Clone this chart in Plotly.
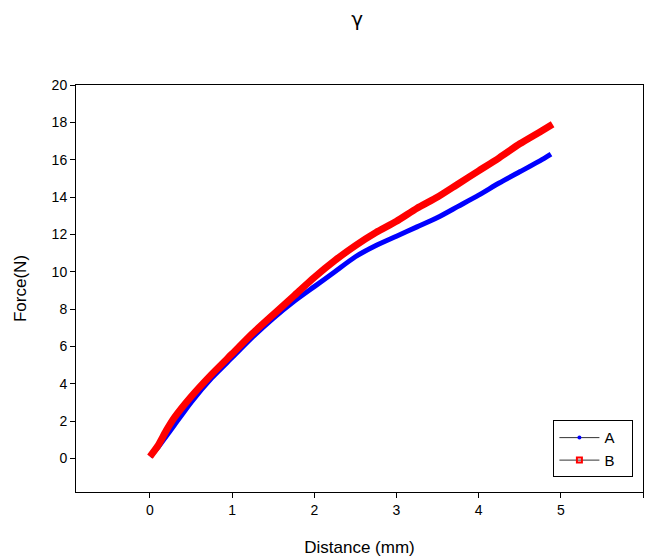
import plotly.graph_objects as go

# Series A (blue)
a_x = [0, 0.1, 0.2, 0.3, 0.5, 0.75, 1.0, 1.25, 1.5, 1.75, 2.0, 2.25, 2.5, 2.75,
       3.0, 3.25, 3.5, 3.75, 4.0, 4.25, 4.5, 4.75, 4.88]
a_y = [0.1, 0.6, 1.2, 1.8, 3.0, 4.3, 5.4, 6.5, 7.5, 8.4, 9.2, 10.0, 10.8, 11.4,
       11.9, 12.4, 12.9, 13.5, 14.1, 14.75, 15.35, 15.95, 16.3]

# Series B (red)
b_x = [0, 0.1, 0.2, 0.3, 0.5, 0.75, 1.0, 1.25, 1.5, 1.75, 2.0, 2.25, 2.5, 2.75,
       3.0, 3.25, 3.5, 3.75, 4.0, 4.25, 4.5, 4.75, 4.9]
b_y = [0.1, 0.7, 1.5, 2.2, 3.3, 4.5, 5.6, 6.7, 7.7, 8.7, 9.7, 10.6, 11.4, 12.1,
       12.7, 13.4, 14.0, 14.7, 15.4, 16.1, 16.85, 17.5, 17.9]

series_names = ["A", "B"]
x_ticks = [0, 1, 2, 3, 4, 5, 6]
y_ticks = [0, 2, 4, 6, 8, 10, 12, 14, 16, 18, 20]

FONT = "Liberation Sans, Arial"
PAD = "\u00a0" * 3

fig = go.Figure()
fig.add_trace(go.Scatter(x=a_x, y=a_y, mode="lines", showlegend=False,
                         line=dict(color="#0000ff", width=5, shape="spline", smoothing=0.6)))
fig.add_trace(go.Scatter(x=b_x, y=b_y, mode="lines", showlegend=False,
                         line=dict(color="#ff0000", width=7, shape="spline", smoothing=0.6)))
# legend entries
fig.add_trace(go.Scatter(x=[None], y=[None], mode="lines+markers", name=series_names[0] + PAD,
                         line=dict(color="#333333", width=1),
                         marker=dict(color="#0000ff", size=4, symbol="circle")))
fig.add_trace(go.Scatter(x=[None], y=[None], mode="lines+markers", name=series_names[1] + PAD,
                         line=dict(color="#333333", width=1),
                         marker=dict(color="#ff0000", size=5, symbol="square-open",
                                     line=dict(width=2, color="#ff0000"))))

axis_common = dict(showgrid=False, zeroline=False, showline=True, linecolor="black",
                   linewidth=1, mirror=True, ticks="outside", ticklen=5,
                   tickcolor="black", tickfont=dict(family=FONT, size=14, color="black"))

fig.update_layout(
    width=646, height=560,
    margin=dict(l=76, r=3, t=85, b=68),
    paper_bgcolor="white", plot_bgcolor="white",
    title=dict(text="γ", x=0.553, xanchor="center", y=0.966, yanchor="middle",
               font=dict(family="DejaVu Sans", size=20, color="black")),
    xaxis=dict(range=[-0.9, 6], tickvals=x_ticks,
               title=dict(text="Distance (mm)", standoff=24,
                          font=dict(family=FONT, size=17, color="black")),
               **axis_common),
    yaxis=dict(range=[-1.8, 20], tickvals=y_ticks,
               title=dict(text="Force(N)", standoff=20,
                          font=dict(family=FONT, size=17, color="black")),
               **axis_common),
    legend=dict(x=0.842, y=0.176, xanchor="left", yanchor="top",
                bordercolor="black", borderwidth=1, bgcolor="white",
                font=dict(family=FONT, size=15, color="black"),
                tracegroupgap=0, itemwidth=40),
)

fig.write_html("out.html", post_script="document.body.style.margin='0';",
               config={"displayModeBar": False})
